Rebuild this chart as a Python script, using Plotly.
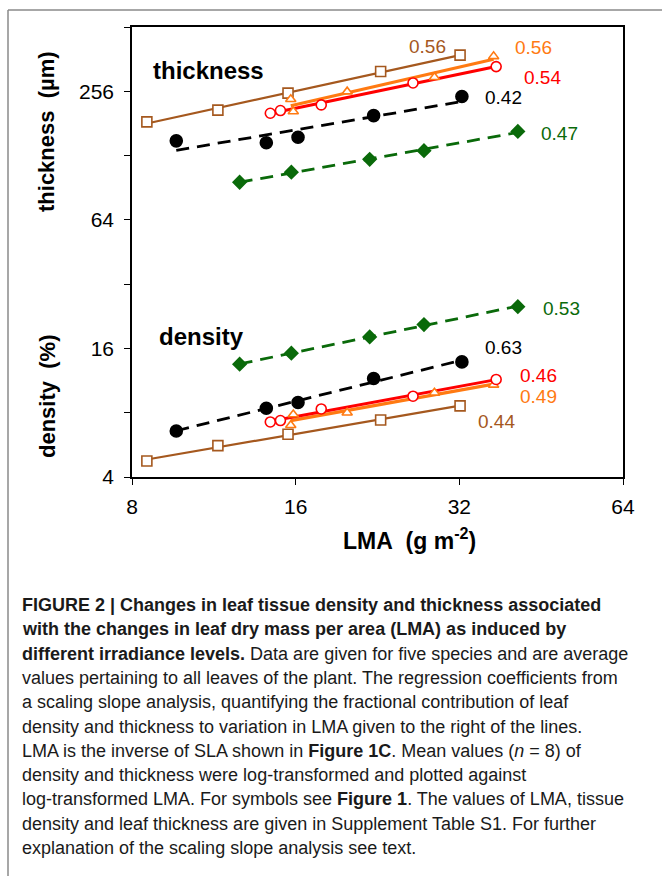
import numpy as np
import plotly.graph_objects as go

# ---------------- data ----------------
lma_brown = [8.52, 11.51, 15.49, 22.93, 32.1]
thick_brown = [184, 209, 251, 317, 378]
dens_brown = [4.75, 5.61, 6.34, 7.40, 8.61]

lma_black = [9.65, 14.13, 16.16, 22.26, 32.35]
thick_black = [150, 147, 156, 197, 242]
dens_black = [6.57, 8.40, 8.93, 11.57, 13.84]

lma_green = [12.62, 15.71, 21.89, 27.55, 41.0]
thick_green = [96, 107, 123, 135, 166]
dens_green = [13.5, 15.2, 18.1, 20.7, 25.1]

lma_red = [14.37, 15.0, 17.83, 26.3, 37.4]
thick_red = [202, 208, 221, 280, 334]
dens_red = [7.24, 7.35, 8.33, 9.56, 11.45]

lma_orange = [15.67, 15.84, 19.9, 28.8, 37.0]
thick_orange = [235, 206, 255, 298, 373]
dens_orange = [6.99, 7.85, 8.0, 9.91, 10.8]

# slope labels: (text, x, y) in data units
slopes_thick = {"brown": ("0.56", 28.0, 417), "orange": ("0.56", 43.9, 412),
                "red": ("0.54", 45.6, 298), "black": ("0.42", 38.5, 240),
                "green": ("0.47", 49.0, 163)}
slopes_dens = {"green": ("0.53", 49.4, 24.7), "black": ("0.63", 38.5, 16.2),
               "red": ("0.46", 44.8, 11.9), "orange": ("0.49", 44.8, 9.58),
               "brown": ("0.44", 37.5, 7.24)}

x_ticks = [8, 16, 32, 64]
y_ticks = [4, 16, 64, 256]
y_minor_ticks = [8, 32, 128, 512]

caption_lines = [
    "<b>FIGURE 2 | Changes in leaf tissue density and thickness associated</b>",
    "<b>with the changes in leaf dry mass per area (LMA) as induced by</b>",
    "<b>different irradiance levels.</b> Data are given for five species and are average",
    "values pertaining to all leaves of the plant. The regression coefficients from",
    "a scaling slope analysis, quantifying the fractional contribution of leaf",
    "density and thickness to variation in LMA given to the right of the lines.",
    "LMA is the inverse of SLA shown in <b>Figure 1C</b>. Mean values (<i>n</i> = 8) of",
    "density and thickness were log-transformed and plotted against",
    "log-transformed LMA. For symbols see <b>Figure 1</b>. The values of LMA, tissue",
    "density and leaf thickness are given in Supplement Table S1. For further",
    "explanation of the scaling slope analysis see text.",
]

# ---------------- styles ----------------
series = {
    "brown": dict(color="#A5581E", symbol="square", size=10, fill="white", dash="solid", lw=2.2,
                  lma=lma_brown, thick=thick_brown, dens=dens_brown),
    "black": dict(color="#000000", symbol="circle", size=12, fill="#000000", dash="13px,8px", lw=2.8,
                  lma=lma_black, thick=thick_black, dens=dens_black),
    "green": dict(color="#0A6A0A", symbol="diamond", size=10, fill="#0A6A0A", dash="13px,8px", lw=2.8,
                  lma=lma_green, thick=thick_green, dens=dens_green),
    "orange": dict(color="#FF7A12", symbol="triangle-up", size=9, fill="white", dash="solid", lw=3.2,
                   lma=lma_orange, thick=thick_orange, dens=dens_orange),
    "red": dict(color="#FF0000", symbol="circle", size=10, fill="white", dash="solid", lw=3.0,
                lma=lma_red, thick=thick_red, dens=dens_red),
}
order = ["brown", "black", "green", "orange", "red"]

W, H = 662, 876
ML, MR, MT, MB = 132, 39, 27, 399
PW, PH = W - ML - MR, H - MT - MB
def pxp(x):
    return (x - ML) / PW
def pyp(y):
    return (H - MB - y) / PH

FONT = "Liberation Sans, Arial, Helvetica, sans-serif"


def fit_line(x, y):
    lx, ly = np.log10(x), np.log10(y)
    b, a = np.polyfit(lx, ly, 1)
    xs = np.array([min(x), max(x)])
    return xs, 10 ** (a + b * np.log10(xs))


fig = go.Figure()
for key in order:
    s = series[key]
    for yy in (s["thick"], s["dens"]):
        xs, ys = fit_line(s["lma"], yy)
        fig.add_trace(go.Scatter(x=xs, y=ys, mode="lines",
                                 line=dict(color=s["color"], width=s["lw"], dash=s["dash"]),
                                 showlegend=False, hoverinfo="skip"))
for key in order:
    s = series[key]
    for yy in (s["thick"], s["dens"]):
        fig.add_trace(go.Scatter(x=s["lma"], y=yy, mode="markers",
                                 marker=dict(symbol=s["symbol"], size=s["size"], color=s["fill"],
                                             line=dict(color=s["color"], width=1.6)),
                                 showlegend=False))

ann = []
for d in (slopes_thick, slopes_dens):
    for key, (txt, xv, yv) in d.items():
        ann.append(dict(x=np.log10(xv), y=np.log10(yv), xref="x", yref="y", text=txt,
                        xanchor="center", yanchor="middle", showarrow=False,
                        font=dict(family=FONT, size=19, color=series[key]["color"])))
ann.append(dict(x=np.log10(11.08), y=np.log10(322), xref="x", yref="y", text="<b>thickness</b>",
                xanchor="center", yanchor="middle", showarrow=False,
                font=dict(family=FONT, size=24, color="black")))
ann.append(dict(x=np.log10(10.76), y=np.log10(18.1), xref="x", yref="y", text="<b>density</b>",
                xanchor="center", yanchor="middle", showarrow=False,
                font=dict(family=FONT, size=24, color="black")))
# axis titles
ann.append(dict(x=pxp(47), y=pyp(132), xref="paper", yref="paper", textangle=-90,
                xanchor="center", yanchor="middle",
                text="<b>thickness\u00a0\u00a0(µm)</b>", showarrow=False,
                font=dict(family=FONT, size=22, color="black")))
ann.append(dict(x=pxp(47), y=pyp(397), xref="paper", yref="paper", textangle=-90,
                xanchor="center", yanchor="middle",
                text="<b>density\u00a0\u00a0(%)</b>", showarrow=False,
                font=dict(family=FONT, size=22, color="black")))
ann.append(dict(x=pxp(409), y=pyp(539), xref="paper", yref="paper",
                xanchor="center", yanchor="middle",
                text="<b>LMA\u00a0\u00a0(g m<sup>-2</sup>)</b>", showarrow=False,
                font=dict(family=FONT, size=23, color="black")))
# caption
for i, line in enumerate(caption_lines):
    ann.append(dict(x=pxp(20), y=pyp(605 + i * 24.3), xref="paper", yref="paper",
                    xanchor="left", yanchor="middle", text=line, showarrow=False, align="left",
                    font=dict(family=FONT, size=18, color="#1a1a1a")))

shapes = [
    dict(type="line", xref="paper", yref="paper", x0=pxp(8), x1=pxp(8), y0=pyp(10), y1=pyp(876),
         line=dict(color="#8a8a8a", width=1.5)),
    dict(type="line", xref="paper", yref="paper", x0=pxp(8), x1=pxp(662), y0=pyp(10), y1=pyp(10),
         line=dict(color="#8a8a8a", width=1.5)),
]

fig.update_layout(
    width=W, height=H, margin=dict(l=ML, r=MR, t=MT, b=MB, pad=0),
    paper_bgcolor="white", plot_bgcolor="white",
    annotations=ann, shapes=shapes, showlegend=False,
    xaxis=dict(type="log", range=[np.log10(8), np.log10(64)], tickmode="array", tickvals=x_ticks,
               ticktext=[str(v) for v in x_ticks], ticks="outside", ticklen=6, tickwidth=1.2,
               tickcolor="black", showline=True, linecolor="black", linewidth=1.5, mirror=True,
               showgrid=False, zeroline=False, ticklabelstandoff=4,
               tickfont=dict(family=FONT, size=21, color="black")),
    yaxis=dict(type="log", range=[np.log10(4), np.log10(512)], tickmode="array", tickvals=y_ticks,
               ticktext=[str(v) for v in y_ticks], ticks="outside", ticklen=6, tickwidth=1.2,
               tickcolor="black", showline=True, linecolor="black", linewidth=1.5, mirror=True,
               showgrid=False, zeroline=False, ticklabelstandoff=6,
               minor=dict(tickmode="array", tickvals=y_minor_ticks, ticks="outside", ticklen=6,
                          tickwidth=1.2, tickcolor="black", showgrid=False),
               tickfont=dict(family=FONT, size=21, color="black")),
)

fig.write_html("out.html")
